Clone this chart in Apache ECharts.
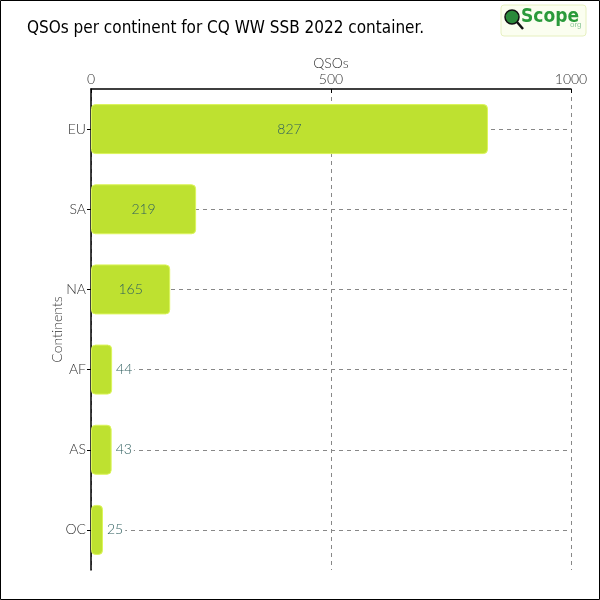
<!DOCTYPE html>
<html><head><meta charset="utf-8">
<script src="https://cdn.jsdelivr.net/npm/echarts@6/dist/echarts.min.js"></script>
<style>html,body{margin:0;padding:0;background:#fff}#c{width:600px;height:600px}</style>
</head><body><div id="c"></div>
<script>
const categories = ['EU', 'SA', 'NA', 'AF', 'AS', 'OC'];
const qsos = [827, 219, 165, 44, 43, 25];
const xTicks = [0, 500, 1000];
const titleText = 'QSOs per continent for CQ WW SSB 2022 container.';

const chart = echarts.init(document.getElementById('c'), null, {renderer: 'canvas'});
const labelFont = 'Lato';
const data = qsos.map(v => ({
  value: v,
  label: v >= 100 ? {position: 'inside'} : {position: 'right', distance: 2, backgroundColor: '#fff', padding: [0, 2]}
}));
chart.setOption({
  animation: false,
  title: {
    text: titleText, left: 22, top: 15,
    textStyle: {fontFamily: 'DejaVu Sans Condensed', fontWeight: 'normal', fontSize: 17, color: '#000'}
  },
  graphic: [
    {type: 'rect', shape: {x: 0.5, y: 0.5, width: 599, height: 599}, style: {fill: 'none', stroke: '#000', lineWidth: 1}, silent: true, z: 100},
    {type: 'rect', shape: {x: 501, y: 5, width: 85, height: 31, r: 3}, style: {fill: '#fbfef0', stroke: '#e6f0c0', lineWidth: 1}},
    {type: 'circle', shape: {cx: 512, cy: 17, r: 7}, style: {fill: '#2a8a3a', stroke: '#111', lineWidth: 1.5}},
    {type: 'line', shape: {x1: 517, y1: 22, x2: 523, y2: 29}, style: {stroke: '#111', lineWidth: 2.5}},
    {type: 'text', style: {x: 521, y: 8, text: 'Scope', fill: '#2a9a3a', font: 'bold 19px "DejaVu Sans Condensed"'}},
    {type: 'text', style: {x: 570, y: 21, text: 'org', fill: '#8fc89a', font: '8px sans-serif'}}
  ],
  grid: {left: 91, right: 29, top: 89, bottom: 30, containLabel: false},
  xAxis: {
    type: 'value', position: 'top', min: 0, max: 1000, interval: 500,
    name: 'QSOs', nameLocation: 'middle', nameGap: 19, nameMoveOverlap: false,
    nameTextStyle: {fontFamily: labelFont, fontSize: 14, color: '#333', fontWeight: 300},
    axisLine: {show: true, lineStyle: {color: '#000', width: 1.5}},
    axisTick: {show: true, inside: true, length: 4, lineStyle: {color: '#000'}},
    axisLabel: {fontFamily: labelFont, fontSize: 14, color: '#333', fontWeight: 300, margin: 3,
      formatter: v => xTicks.includes(v) ? String(v) : ''},
    splitLine: {show: true, lineStyle: {color: '#888', type: [4, 4], width: 1}}
  },
  yAxis: {
    type: 'category', data: categories, inverse: true,
    name: 'Continents', nameLocation: 'middle', nameGap: 27, nameMoveOverlap: false,
    nameTextStyle: {fontFamily: labelFont, fontSize: 14, color: '#333', fontWeight: 300},
    axisLine: {show: true, lineStyle: {color: '#000', width: 1.5}},
    axisTick: {show: true, alignWithLabel: true, length: 4, lineStyle: {color: '#000'}},
    axisLabel: {fontFamily: labelFont, fontSize: 14, color: '#333', fontWeight: 300, margin: 5},
    splitLine: {show: true, alignWithLabel: true, lineStyle: {color: '#888', type: [4, 4], width: 1}}
  },
  series: [{
    type: 'bar', data: data, barWidth: 50,
    itemStyle: {color: '#bee130', borderColor: '#dcf55a', borderWidth: 1, borderRadius: 4},
    label: {show: true, fontFamily: labelFont, fontSize: 14, color: '#2f5f5f', fontWeight: 300}
  }]
});
</script></body></html>
